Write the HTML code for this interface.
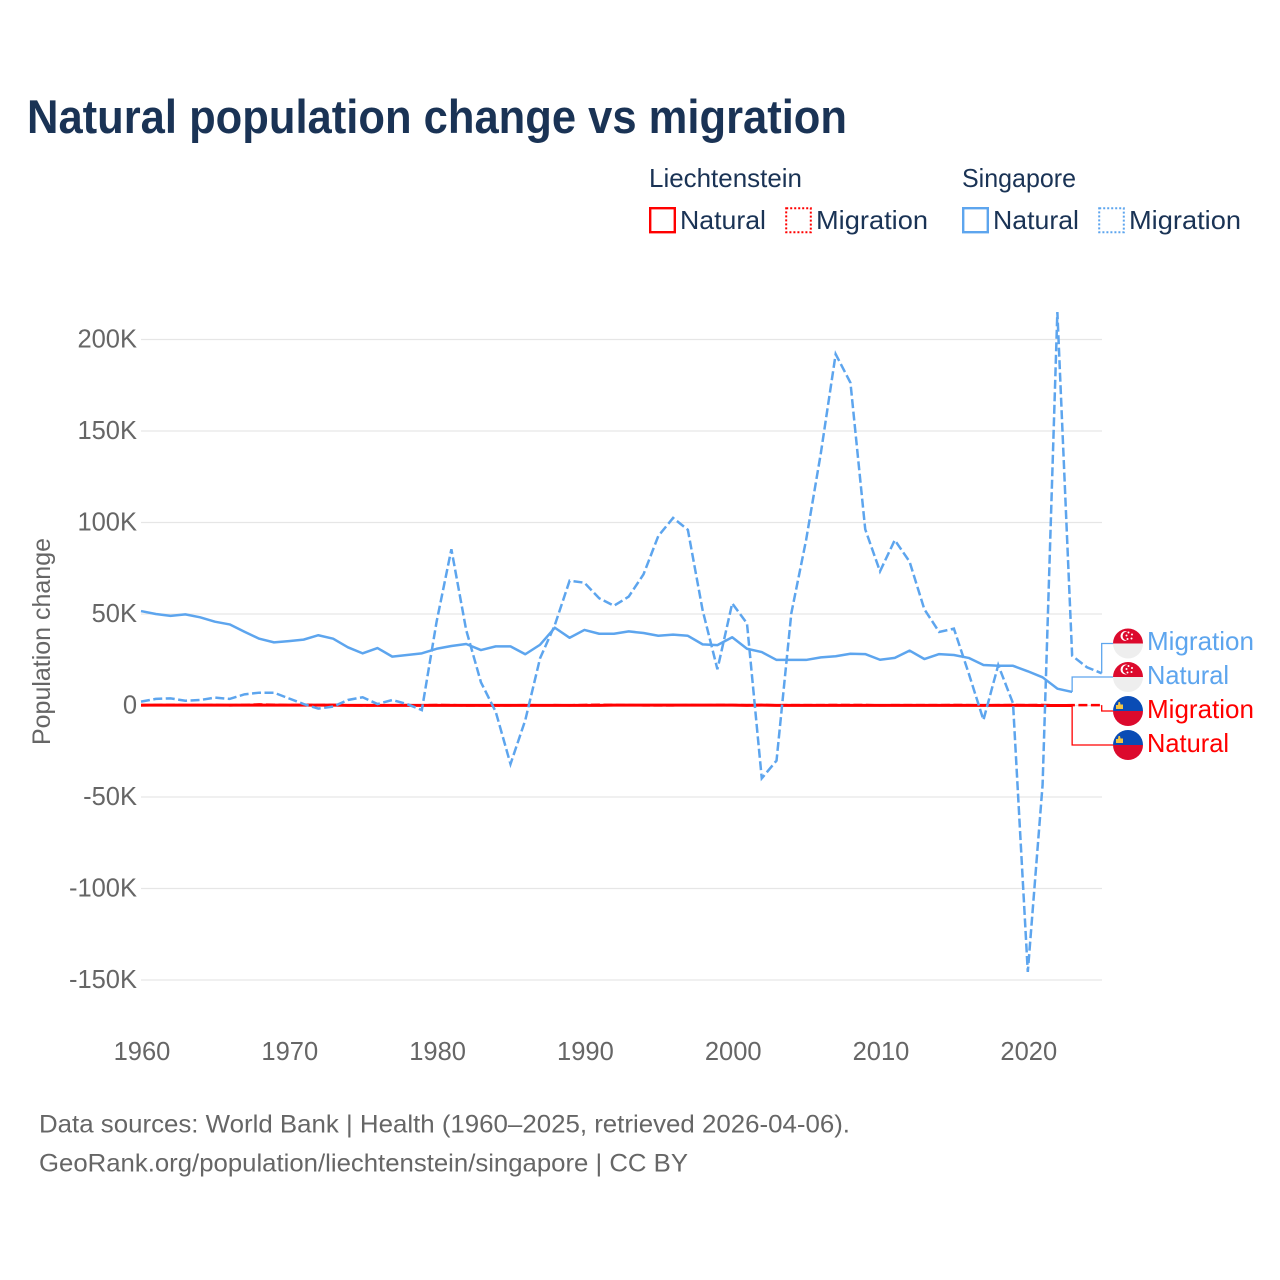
<!DOCTYPE html>
<html lang="en">
<head>
<meta charset="utf-8">
<title>Natural population change vs migration</title>
<style>
html,body{margin:0;padding:0;background:#fff}
svg{display:block;font-family:"Liberation Sans",sans-serif}
</style>
</head>
<body>
<svg id="chart" xmlns="http://www.w3.org/2000/svg" width="1280" height="1280" viewBox="0 0 1280 1280">
  <defs>
    <clipPath id="flag-clip"><circle cx="0" cy="0" r="15"/></clipPath>
    <g id="flag-sg">
      <g clip-path="url(#flag-clip)">
        <rect x="-15" y="-15" width="30" height="15" fill="#dc0a2d"/>
        <rect x="-15" y="0" width="30" height="15" fill="#eeeeee"/>
        <circle cx="-2.5" cy="-7.5" r="5" fill="#fff"/>
        <circle cx="-0.8" cy="-7.5" r="4.6" fill="#dc0a2d"/>
        <circle cx="0.5" cy="-11" r="1" fill="#fff"/>
        <circle cx="4" cy="-9" r="1" fill="#fff"/>
        <circle cx="3.5" cy="-5" r="1" fill="#fff"/>
        <circle cx="-0.5" cy="-4.5" r="1" fill="#fff"/>
        <circle cx="-1.5" cy="-8" r="1" fill="#fff"/>
      </g>
    </g>
    <g id="flag-li">
      <g clip-path="url(#flag-clip)">
        <rect x="-15" y="-15" width="30" height="15" fill="#0a4cb5"/>
        <rect x="-15" y="0" width="30" height="15" fill="#dc0a2d"/>
        <path d="M-12 -2 L-12 -6 L-10 -6 L-9.5 -9 L-8 -9 L-7.5 -6.5 L-5 -6.5 L-5 -2 Z" fill="#f2c544"/>
      </g>
    </g>
  </defs>

  <text x="27" y="133" font-size="47.5" font-weight="700" fill="#1a3355" textLength="820" lengthAdjust="spacingAndGlyphs">Natural population change vs migration</text>

  <g fill="#1a3355" font-size="26">
    <text x="649" y="187" textLength="153" lengthAdjust="spacingAndGlyphs">Liechtenstein</text>
    <text x="962" y="187" textLength="114" lengthAdjust="spacingAndGlyphs">Singapore</text>

    <g>
      <rect x="650.2" y="208.2" width="24.6" height="24" fill="#fff" stroke="#ff0000" stroke-width="2.4"/>
      <text x="680" y="229" textLength="86" lengthAdjust="spacingAndGlyphs">Natural</text>
    </g>
    <g>
      <rect x="786.2" y="208.2" width="24.6" height="24" fill="#fff" stroke="#ff0000" stroke-width="2" stroke-dasharray="2 2"/>
      <text x="816" y="229" textLength="112" lengthAdjust="spacingAndGlyphs">Migration</text>
    </g>
    <g>
      <rect x="963.2" y="208.2" width="24.6" height="24" fill="#fff" stroke="#5da5ee" stroke-width="2.4"/>
      <text x="993" y="229" textLength="86" lengthAdjust="spacingAndGlyphs">Natural</text>
    </g>
    <g>
      <rect x="1099.2" y="208.2" width="24.6" height="24" fill="#fff" stroke="#5da5ee" stroke-width="2" stroke-dasharray="2 2"/>
      <text x="1129" y="229" textLength="112" lengthAdjust="spacingAndGlyphs">Migration</text>
    </g>
  </g>

  <g id="grid"></g>
  <g id="y-ticks"></g>
  <g id="x-ticks"></g>

  <text transform="translate(50,745) rotate(-90)" font-size="25" fill="#666666" textLength="207" lengthAdjust="spacingAndGlyphs">Population change</text>

  <g id="series"></g>
  <g id="connectors"></g>

  <g font-size="26">
    <g>
      <use href="#flag-sg" x="1128" y="643.5"/>
      <text x="1147" y="650" fill="#5da5ee" textLength="107" lengthAdjust="spacingAndGlyphs">Migration</text>
    </g>
    <g>
      <use href="#flag-sg" x="1128" y="677"/>
      <text x="1147" y="684" fill="#5da5ee" textLength="82" lengthAdjust="spacingAndGlyphs">Natural</text>
    </g>
    <g>
      <use href="#flag-li" x="1128" y="711"/>
      <text x="1147" y="718" fill="#ff0000" textLength="107" lengthAdjust="spacingAndGlyphs">Migration</text>
    </g>
    <g>
      <use href="#flag-li" x="1128" y="745"/>
      <text x="1147" y="752" fill="#ff0000" textLength="82" lengthAdjust="spacingAndGlyphs">Natural</text>
    </g>
  </g>

  <g font-size="25" fill="#666666">
    <text x="39" y="1132.5" textLength="811" lengthAdjust="spacingAndGlyphs">Data sources: World Bank | Health (1960–2025, retrieved 2026-04-06).</text>
    <text x="39" y="1171.5" textLength="649" lengthAdjust="spacingAndGlyphs">GeoRank.org/population/liechtenstein/singapore | CC BY</text>
  </g>
</svg>

<script>
const years = [1960,1961,1962,1963,1964,1965,1966,1967,1968,1969,1970,1971,1972,1973,1974,1975,1976,1977,1978,1979,1980,1981,1982,1983,1984,1985,1986,1987,1988,1989,1990,1991,1992,1993,1994,1995,1996,1997,1998,1999,2000,2001,2002,2003,2004,2005,2006,2007,2008,2009,2010,2011,2012,2013,2014,2015,2016,2017,2018,2019,2020,2021,2022,2023,2024,2025];
const yTickValues = [200,150,100,50,0,-50,-100,-150];
const xTickValues = [1960,1970,1980,1990,2000,2010,2020];

const singaporeNatural = [51.6,50,49,49.8,48.2,45.8,44.3,40.3,36.5,34.5,35.2,36,38.4,36.5,31.8,28.5,31.4,26.7,27.6,28.5,31,32.5,33.6,30.3,32.3,32.3,28,33.2,42.5,37,41.3,39.2,39.2,40.5,39.6,38.1,38.7,38.1,33.4,33,37.3,31,29.2,24.9,24.9,24.9,26.3,26.9,28.3,28.1,25,26,30,25.4,28.1,27.6,26,22.1,21.7,21.7,18.7,15.4,9.2,7.4];
const singaporeMigration = [2.1,3.6,3.9,2.6,3,4.3,3.6,6.1,7,7,3.9,0.8,-1.7,-0.6,3,4.5,0.8,3,0.8,-2.5,45.8,85.4,41.3,12.7,-3.4,-32,-8,25.8,44,68.2,67.1,58.6,54.5,59.5,71.7,92.6,102.5,96,52,19.8,55.8,44.9,-39.8,-30.1,50.4,90.4,138,192,176.4,96.3,73.3,90.4,78.6,52.6,40.2,42,17.6,-7.9,22.1,1.2,-145.6,-43.4,215,27.2,20.9,17.6];
const liechtensteinNatural = [0.2,0.2,0.2,0.2,0.2,0.2,0.2,0.2,0.2,0.2,0.2,0.2,0.2,0.2,0.1,0.1,0.1,0.1,0.1,0.1,0.1,0.1,0.1,0.1,0.1,0.1,0.1,0.1,0.1,0.1,0.1,0.1,0.2,0.2,0.2,0.2,0.2,0.2,0.2,0.2,0.2,0.1,0.2,0.1,0.1,0.1,0.1,0.1,0.1,0.1,0.1,0.1,0.1,0.1,0.1,0.1,0.1,0.1,0.1,0.1,0.1,0,0,0];
const liechtensteinMigration = [0.1,0.2,0.3,0.2,0.2,0.3,0.1,0.3,0.6,0.4,0.2,0.3,0.2,0.3,0.1,0,0.1,0.1,0.2,0.1,0.3,0.2,0,0.1,0,0.1,0.2,0.1,0.2,0.1,0.3,0.4,0.3,0.2,0.1,0.1,0.1,0.2,0.1,0.3,0.2,0.2,0.3,0.1,0.2,0.2,0.2,0.3,0.3,0.3,0.1,0.2,0.2,0.2,0.2,0.3,0.2,0.1,0.2,0.3,0.2,0.3,0.1,0.2,0.2,0.2];

const NS = 'http://www.w3.org/2000/svg';
function xScale(year) { return 141 + 14.78 * (year - 1960); }
function yScale(value) { return 705.5 - 1.83 * value; }
function formatTick(v) { return v === 0 ? '0' : v + 'K'; }

function make(tag, attrs, parent) {
  const el = document.createElementNS(NS, tag);
  for (const k in attrs) el.setAttribute(k, attrs[k]);
  parent.appendChild(el);
  return el;
}
function linePath(values) {
  return values.map((v, i) => (i ? 'L' : 'M') + xScale(years[i]).toFixed(2) + ' ' + yScale(v).toFixed(2)).join(' ');
}

const gridLayer = document.getElementById('grid');
const yLayer = document.getElementById('y-ticks');
yTickValues.forEach(v => {
  const line = make('line', {x1: 141, x2: 1102, y1: yScale(v), y2: yScale(v), stroke: '#e6e6e6', 'stroke-width': 1.3}, gridLayer);
  
  
  const t = make('text', {x: 137, y: yScale(v) + 8, 'text-anchor': 'end', 'font-size': 25.5, fill: '#666666'}, yLayer);
  t.textContent = formatTick(v);
  
  
});

const xLayer = document.getElementById('x-ticks');
xTickValues.forEach(v => {
  const t = make('text', {x: xScale(v) + 1, y: 1060, 'text-anchor': 'middle', 'font-size': 25.5, fill: '#666666'}, xLayer);
  t.textContent = v;
  
  
});

const seriesLayer = document.getElementById('series');
const redNatural = make('path', {d: linePath(liechtensteinNatural), fill: 'none', stroke: '#ff0000', 'stroke-width': 3, 'stroke-linejoin': 'round'}, seriesLayer);


const redMigration = make('path', {d: linePath(liechtensteinMigration), fill: 'none', stroke: '#ff0000', 'stroke-width': 2.5, 'stroke-dasharray': '9 3.5'}, seriesLayer);


const blueNatural = make('path', {d: linePath(singaporeNatural), fill: 'none', stroke: '#5da5ee', 'stroke-width': 2.5, 'stroke-linejoin': 'round'}, seriesLayer);


const blueMigration = make('path', {d: linePath(singaporeMigration), fill: 'none', stroke: '#5da5ee', 'stroke-width': 2.5, 'stroke-dasharray': '9 3.5'}, seriesLayer);



const connectorLayer = document.getElementById('connectors');
function connector(values, labelY, color) {
  const i = values.length - 1;
  const x = xScale(years[i]);
  const y = yScale(values[i]);
  const d = 'M' + x.toFixed(2) + ' ' + y.toFixed(2) + ' L' + x.toFixed(2) + ' ' + labelY + ' L1113 ' + labelY;
  const p = make('path', {d: d, fill: 'none', stroke: color, 'stroke-width': 1.3}, connectorLayer);
  p.style.stroke = color;
  return p;
}
const connA = connector(singaporeMigration, 643.5, '#5da5ee');


const connB = connector(singaporeNatural, 677, '#5da5ee');


const connC = connector(liechtensteinMigration, 711, '#ff0000');


const connD = connector(liechtensteinNatural, 745, '#ff0000');


</script>
</body>
</html>
